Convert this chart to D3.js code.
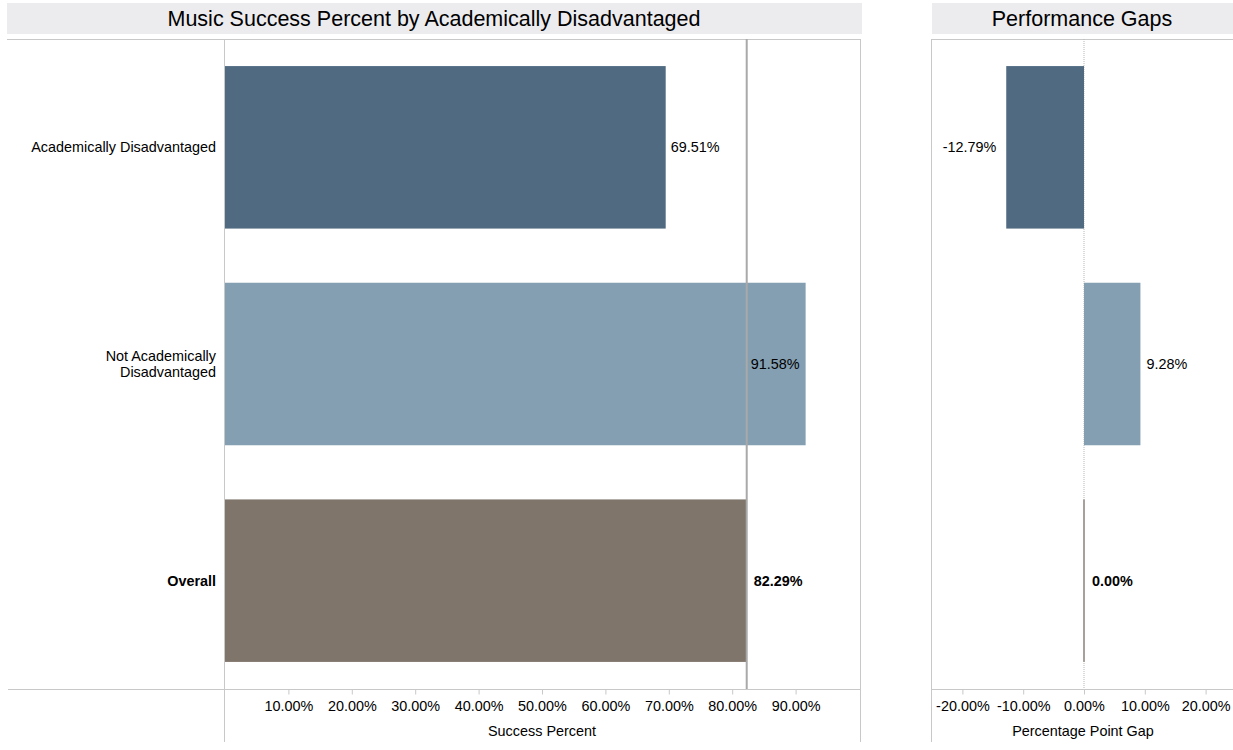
<!DOCTYPE html>
<html><head><meta charset="utf-8">
<script src="https://cdn.jsdelivr.net/npm/d3@7"></script>
<style>
body{margin:0;background:#fff;}
text{font-family:"Liberation Sans",Arial,sans-serif;fill:#000;}
</style></head>
<body>
<svg id="c" width="1233" height="750"></svg>
<script>
const categories = ["Academically Disadvantaged", "Not Academically Disadvantaged", "Overall"];
const categoryLines = [["Academically Disadvantaged"], ["Not Academically", "Disadvantaged"], ["Overall"]];
const successValues = [69.51, 91.58, 82.29];
const gapValues = [-12.79, 9.28, 0.00];
const referenceValue = 82.29;
const successTicks = [10, 20, 30, 40, 50, 60, 70, 80, 90];
const gapTicks = [-20, -10, 0, 10, 20];
const colors = ["#4f6a81", "#849fb2", "#7f756b"];
const boldRow = [false, false, true];

const svg = d3.select("#c");
const plotTop = 39, plotBottom = 689;
const lineColor = "#c8c8c8";
const fs = 14.4;
const fmt = v => v.toFixed(2) + "%";

const y = d3.scaleBand().domain(categories).range([plotTop, plotBottom]).paddingInner(0.25).paddingOuter(0.125);
const x1 = d3.scaleLinear().domain([0, 100]).range([225, 859]);
const x2 = d3.scaleLinear().domain([-25, 25]).range([932, 1236]);

// title bands
svg.append("rect").attr("x", 7).attr("y", 3).attr("width", 855).attr("height", 31).attr("fill", "#ececef");
svg.append("text").attr("x", 434).attr("y", 26).attr("text-anchor", "middle").attr("font-size", 21.5).text("Music Success Percent by Academically Disadvantaged");
svg.append("rect").attr("x", 932).attr("y", 3).attr("width", 301).attr("height", 31).attr("fill", "#ececef");
svg.append("text").attr("x", 1082).attr("y", 26).attr("text-anchor", "middle").attr("font-size", 21.5).text("Performance Gaps");

// frame lines
function line(xa, ya, xb, yb, col, w) {
  svg.append("line").attr("x1", xa).attr("y1", ya).attr("x2", xb).attr("y2", yb)
    .attr("stroke", col || lineColor).attr("stroke-width", w || 1);
}
line(7, plotTop + 0.5, 861, plotTop + 0.5);
line(932, plotTop + 0.5, 1233, plotTop + 0.5);
line(224.5, plotTop, 224.5, 742);
line(860.5, plotTop, 860.5, 742);
line(931.5, plotTop, 931.5, 742);

// zero dotted line on gap panel
svg.append("line").attr("x1", x2(0)).attr("x2", x2(0)).attr("y1", plotTop).attr("y2", plotBottom)
  .attr("stroke", "#b8b8b8").attr("stroke-width", 1).attr("stroke-dasharray", "1,1");

// left bars
const g1 = svg.append("g");
g1.selectAll("rect").data(categories).join("rect")
  .attr("x", x1(0)).attr("y", d => y(d))
  .attr("width", (d, i) => x1(successValues[i]) - x1(0))
  .attr("height", y.bandwidth())
  .attr("fill", (d, i) => colors[i]);

// reference line
line(x1(referenceValue), plotTop, x1(referenceValue), plotBottom, "#a9a9a9", 2);

// left value labels
g1.selectAll("text.v").data(categories).join("text").attr("class", "v")
  .attr("x", (d, i) => i === 1 ? x1(successValues[i]) - 6 : (i === 2 ? x1(successValues[i]) + 7 : x1(successValues[i]) + 5))
  .attr("y", d => y(d) + y.bandwidth() / 2 + 5)
  .attr("text-anchor", (d, i) => i === 1 ? "end" : "start")
  .attr("font-size", fs)
  .attr("font-weight", (d, i) => boldRow[i] ? "bold" : "normal")
  .text((d, i) => fmt(successValues[i]));

// category labels
categories.forEach((c, i) => {
  const lines = categoryLines[i];
  const cy = y(c) + y.bandwidth() / 2;
  const t = svg.append("text").attr("text-anchor", "end").attr("font-size", fs)
    .attr("font-weight", boldRow[i] ? "bold" : "normal");
  lines.forEach((l, k) => {
    t.append("tspan").attr("x", 216).attr("y", cy + 5 + (k - (lines.length - 1) / 2) * 16.5).text(l);
  });
});

// gap bars
const g2 = svg.append("g");
g2.selectAll("rect").data(categories).join("rect")
  .attr("x", (d, i) => i === 2 ? x2(0) - 1 : Math.min(x2(0), x2(gapValues[i])))
  .attr("y", d => y(d))
  .attr("width", (d, i) => i === 2 ? 2 : Math.abs(x2(gapValues[i]) - x2(0)))
  .attr("height", y.bandwidth())
  .attr("fill", (d, i) => i === 2 ? "#a8a09a" : colors[i]);

g2.selectAll("text").data(categories).join("text")
  .attr("x", (d, i) => gapValues[i] < 0 ? x2(gapValues[i]) - 10 : x2(gapValues[i]) + (i === 2 ? 8 : 6))
  .attr("y", d => y(d) + y.bandwidth() / 2 + 5)
  .attr("text-anchor", (d, i) => gapValues[i] < 0 ? "end" : "start")
  .attr("font-size", fs)
  .attr("font-weight", (d, i) => boldRow[i] ? "bold" : "normal")
  .text((d, i) => fmt(gapValues[i]));

// axes
line(8, plotBottom + 0.5, 861, plotBottom + 0.5);
line(932, plotBottom + 0.5, 1233, plotBottom + 0.5);

const ax1 = d3.axisBottom(x1).tickValues(successTicks).tickSize(5).tickFormat(d => d.toFixed(2) + "%");
const a1 = svg.append("g").attr("transform", `translate(0,${plotBottom + 0.5})`).call(ax1);
const ax2 = d3.axisBottom(x2).tickValues(gapTicks).tickSize(5).tickFormat(d => d.toFixed(2) + "%");
const a2 = svg.append("g").attr("transform", `translate(0,${plotBottom + 0.5})`).call(ax2);
[a1, a2].forEach(a => {
  a.select(".domain").remove();
  a.selectAll(".tick line").attr("stroke", lineColor);
  a.selectAll(".tick text").attr("font-size", fs).attr("font-family", "Liberation Sans, Arial, sans-serif").attr("fill", "#000").attr("dy", "0.71em").attr("y", 11);
});

svg.append("text").attr("x", 542).attr("y", 736).attr("text-anchor", "middle").attr("font-size", fs).text("Success Percent");
svg.append("text").attr("x", 1083).attr("y", 736).attr("text-anchor", "middle").attr("font-size", fs).text("Percentage Point Gap");
</script>
</body></html>
